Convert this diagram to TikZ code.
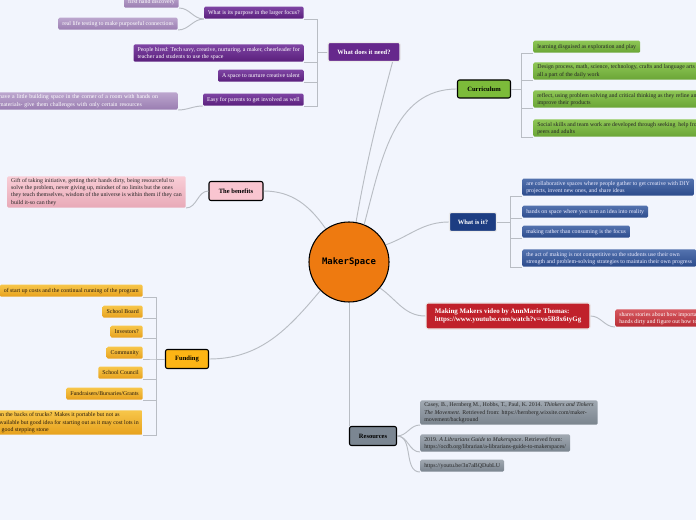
\documentclass[tikz,border=0pt]{standalone}
\usepackage{fontspec}
\setmainfont{Liberation Serif}
\newfontfamily\msfont{DejaVu Sans Mono}
\usetikzlibrary{calc}
\definecolor{bgblue}{HTML}{F2F5FD}
\definecolor{linegray}{HTML}{B9BDC4}
\definecolor{msorange}{HTML}{EE7A10}
\definecolor{needpurple}{HTML}{66288C}
\definecolor{purptop}{HTML}{7E44A3}
\definecolor{purpbot}{HTML}{5A1F7C}
\definecolor{lavtop}{HTML}{BCA6CE}
\definecolor{lavbot}{HTML}{9A7DB1}
\definecolor{currgreen}{HTML}{7CBB3A}
\definecolor{greentop}{HTML}{8EC655}
\definecolor{greenbot}{HTML}{6AA536}
\definecolor{isblue}{HTML}{1D3D82}
\definecolor{bluetop}{HTML}{5372AE}
\definecolor{bluebot}{HTML}{2C4B8C}
\definecolor{benpink}{HTML}{F9C5D0}
\definecolor{pinktop}{HTML}{F9CED7}
\definecolor{pinkbot}{HTML}{E8A9B7}
\definecolor{fundyellow}{HTML}{FDB515}
\definecolor{yeltop}{HTML}{F7C64A}
\definecolor{yelbot}{HTML}{E7A11D}
\definecolor{resgray}{HTML}{7B8692}
\definecolor{graytop}{HTML}{A0A8B1}
\definecolor{graybot}{HTML}{7A848E}
\definecolor{vidred}{HTML}{C0212B}
\definecolor{redtop}{HTML}{D6585F}
\definecolor{redbot}{HTML}{B82D35}
\tikzset{
  conn/.style={draw=linegray,line width=0.7pt},
  mainbox/.style={draw,rounded corners=1.5pt,line width=0.8pt,font=\fontsize{4.9}{6}\selectfont\bfseries,inner sep=1pt,align=center},
  leaf/.style={rounded corners=1pt,inner xsep=3pt,inner ysep=1.8pt,align=left,font=\fontsize{4.4}{5.3}\selectfont,minimum height=9pt},
  purpleaf/.style={leaf,top color=purptop,bottom color=purpbot,text=white},
  lavleaf/.style={leaf,top color=lavtop,bottom color=lavbot,text=white},
  greenleaf/.style={leaf,top color=greentop,bottom color=greenbot,text=black!85},
  blueleaf/.style={leaf,top color=bluetop,bottom color=bluebot,text=white!92!blue},
  pinkleaf/.style={leaf,top color=pinktop,bottom color=pinkbot,text=black!85},
  yelleaf/.style={leaf,top color=yeltop,bottom color=yelbot,text=black!80!brown},
  grayleaf/.style={leaf,top color=graytop,bottom color=graybot,text=black!85},
  redleaf/.style={leaf,top color=redtop,bottom color=redbot,text=white}
}
\begin{document}
\begin{tikzpicture}[x=0.75pt,y=-0.75pt]
\fill[bgblue] (0,0) rectangle (696,520);
\useasboundingbox (0,0) rectangle (696,520);

% centre
\node[circle,draw,line width=0.8pt,fill=msorange,minimum size=60pt,font=\msfont\bfseries\fontsize{6.7}{8}\selectfont] (ms) at (349,262) {MakerSpace};

% main topics
\node[mainbox,fill=needpurple,draw=white!85!gray,text=white,minimum width=54pt,minimum height=14.25pt] (need) at (364,52) {What does it need?};
\node[mainbox,fill=currgreen,minimum width=39.75pt,minimum height=13.5pt] (curr) at (484,89) {Curriculum};
\node[mainbox,fill=isblue,draw=white!85!gray,text=white,minimum width=35.25pt,minimum height=14.25pt] (whatis) at (473,222) {What is it?};
\node[mainbox,fill=benpink,minimum width=40.5pt,minimum height=14.25pt] (ben) at (236,191) {The benefits};
\node[mainbox,fill=fundyellow,minimum width=32.25pt,minimum height=14.25pt] (fund) at (187,359) {Funding};
\node[mainbox,fill=resgray,minimum width=35.25pt,minimum height=14.25pt] (res) at (373,436) {Resources};
\node[mainbox,fill=vidred,draw=white!85!gray,text=white,align=left,font=\fontsize{5.2}{6.3}\selectfont\bfseries,minimum width=123pt,minimum height=19.5pt] (video) at (508,316) {Making Makers video by AnnMarie Thomas:\\ https://www.youtube.com/watch?v=vo5R8x6tyGg};

% what does it need?
\node[purpleaf,anchor=south east] (purpose) at (304,19) {What is its purpose in the larger focus?};
\node[purpleaf,anchor=south east] (hired) at (304,62) {People hired: Tech savy, creative, nurturing, a maker, cheerleader for\\teacher and students to use the space};
\node[purpleaf,anchor=south east] (talent) at (304,82) {A space to nurture creative talent};
\node[purpleaf,anchor=south east] (parents) at (304,106) {Easy for parents to get involved as well};
\node[lavleaf,anchor=south east] (discov) at (179,8) {first hand discovery};
\node[lavleaf,anchor=south east] (testing) at (178,30) {real life testing to make purposeful connections};
\node[lavleaf,anchor=south east,text width=131pt] (corner) at (178,110) {have a little building space in the corner of a room with hands on\\materials- give them challenges with only certain resources};
\coordinate (needj) at (317,52);
\foreach \n in {purpose,hired,talent,parents}{\draw[conn] (need.west) -- (needj) |- (\n.south east);}
\draw[conn] (purpose.south west) to[out=180,in=0] (discov.south east);
\draw[conn] (purpose.south west) to[out=180,in=0] (testing.south east);
\draw[conn] (parents.south west) to[out=180,in=0] (corner.south east);

% curriculum
\node[greenleaf,anchor=south west] (play) at (533,53) {learning disguised as exploration and play};
\node[greenleaf,anchor=south west] (design) at (533,80) {Design process, math, science, technology, crafts and language arts\\all a part of the daily work};
\node[greenleaf,anchor=south west] (reflect) at (533,108) {reflect, using problem solving and critical thinking as they refine and\\improve their products};
\node[greenleaf,anchor=south west] (social) at (533,137) {Social skills and team work are developed through seeking\ \ help from\\peers and adults};
\coordinate (currj) at (521,89);
\foreach \n in {play,design,reflect,social}{\draw[conn] (curr.east) -- (currj) |- (\n.south west);}

% what is it?
\node[blueleaf,anchor=south west] (collab) at (522,196) {are collaborative spaces where people gather to get creative with DIY\\projects, invent new ones, and share ideas};
\node[blueleaf,anchor=south west] (hands) at (522,218) {hands on space where you turn an idea into reality};
\node[blueleaf,anchor=south west] (making) at (522,238) {making rather than consuming is the focus};
\node[blueleaf,anchor=south west] (act) at (522,267) {the act of making is not competitive so the students use their own\\strength and problem-solving strategies to maintain their own progress};
\coordinate (isj) at (510,222);
\foreach \n in {collab,hands,making,act}{\draw[conn] (whatis.east) -- (isj) |- (\n.south west);}

% the benefits
\node[pinkleaf,anchor=south east] (gift) at (186,208) {Gift of taking initiative, getting their hands dirty, being resourceful to\\solve the problem, never giving up, mindset of no limits but the ones\\they teach themselves, wisdom of the universe is within them if they can\\build it-so can they};
\draw[conn] (ben.west) to[out=180,in=0] (gift.south east);

% funding
\node[yelleaf,anchor=south east] (startup) at (143,297) {of start up costs and the continual running of the program};
\node[yelleaf,anchor=south east] (board) at (143,318) {School Board};
\node[yelleaf,anchor=south east] (invest) at (143,338) {Investors?};
\node[yelleaf,anchor=south east] (commun) at (143,359) {Community};
\node[yelleaf,anchor=south east] (council) at (143,379) {School Council};
\node[yelleaf,anchor=south east] (grants) at (143,400) {Fundraisers/Bursaries/Grants};
\node[yelleaf,anchor=south east] (trucks) at (143,435) {on the backs of trucks? Makes it portable but not as\\available but good idea for starting out as it may cost lots in\\- good stepping stone};
\coordinate (fundj) at (156,359);
\foreach \n in {startup,board,invest,commun,council,grants,trucks}{\draw[conn] (fund.west) -- (fundj) |- (\n.south east);}

% resources
\node[grayleaf,anchor=south west] (casey) at (420,425) {Casey, B., Hernberg M., Hobbs, T., Paul, K. 2014. \textit{Thinkers and Tinkers}\\\textit{The Movement}. Retrieved from: https://hernberg.wixsite.com/maker-\\movement/background};
\node[grayleaf,anchor=south west] (guide) at (420,452) {2019. \textit{A Librarians Guide to Makerspace}. Retrieved from:\\https://ocdb.org/librarian/a-librarians-guide-to-makerspaces/};
\node[grayleaf,anchor=south west] (ytlink) at (420,472) {https://youtu.be/3n7aBQDubLU};
\foreach \n in {casey,guide,ytlink}{\draw[conn] (res.east) to[out=0,in=180] (\n.south west);}

% video
\node[redleaf,anchor=south west] (shares) at (615,327) {shares stories about how important it is for kids to get their\\hands dirty and figure out how to};
\draw[conn] (video.east) to[out=0,in=180] (shares.south west);

% branches from the centre
\draw[conn] (ms.80) to[out=80,in=-105] ($(need.south east)+(-8,0)$);
\draw[conn] (ms.68) to[out=75,in=180] (curr.west);
\draw[conn] (ms.25) to[out=20,in=180] (whatis.west);
\draw[conn] (ms.-40) to[out=-35,in=180] (video.west);
\draw[conn] (ms.south) -- (ms.south |- res.north);
\draw[conn] (ms.-135) to[out=-130,in=0] (fund.east);
\draw[conn] (ms.125) to[out=125,in=0] (ben.east);
\end{tikzpicture}
\end{document}
